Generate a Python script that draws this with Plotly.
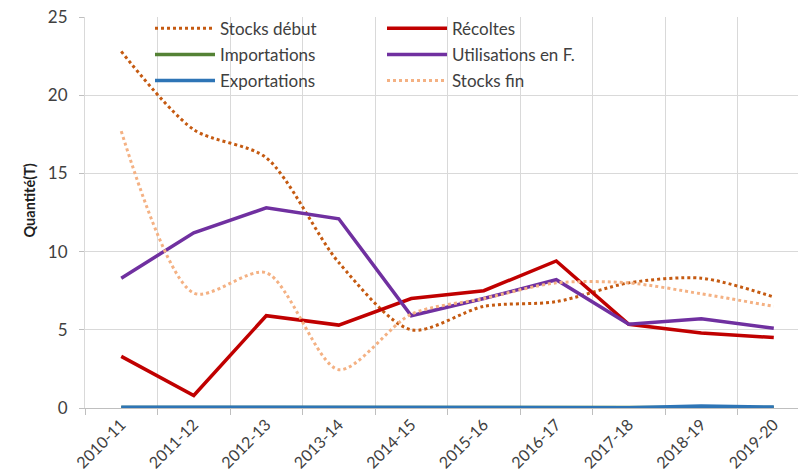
import plotly.graph_objects as go

categories = ["2010-11", "2011-12", "2012-13", "2013-14", "2014-15",
              "2015-16", "2016-17", "2017-18", "2018-19", "2019-20"]
stocks_debut = [22.8, 17.8, 16.0, 9.3, 5.0, 6.5, 6.8, 8.0, 8.3, 7.1]
recoltes = [3.3, 0.8, 5.9, 5.3, 7.0, 7.5, 9.4, 5.35, 4.8, 4.5]
importations = [0.03, 0.03, 0.04, 0.02, 0.02, 0.04, 0.04, 0.02, 0.05, 0.03]
utilisations = [8.3, 11.2, 12.8, 12.1, 5.9, 7.0, 8.2, 5.35, 5.7, 5.1]
exportations = [0.05, 0.05, 0.05, 0.02, 0.02, 0.04, 0.05, 0.02, 0.12, 0.06]
stocks_fin = [17.7, 7.35, 8.65, 2.45, 6.0, 7.0, 8.0, 8.0, 7.3, 6.5]
y_ticks = [0, 5, 10, 15, 20, 25]

FONT = "Lato"
TXT = "#404040"

fig = go.Figure()
fig.add_trace(go.Scatter(x=categories, y=stocks_debut, name="Stocks début", mode="lines",
                         line=dict(color="#C55A11", width=3, dash="3px,3px", shape="spline", smoothing=0.8),
                         legend="legend", legendgroup="a"))
fig.add_trace(go.Scatter(x=categories, y=recoltes, name="Récoltes", mode="lines",
                         line=dict(color="#C00000", width=3.5), legend="legend2", legendgroup="b"))
fig.add_trace(go.Scatter(x=categories, y=importations, name="Importations", mode="lines",
                         line=dict(color="#548235", width=3.5), legend="legend", legendgroup="c"))
fig.add_trace(go.Scatter(x=categories, y=utilisations, name="Utilisations en F.", mode="lines",
                         line=dict(color="#7030A0", width=3.5), legend="legend2", legendgroup="d"))
fig.add_trace(go.Scatter(x=categories, y=exportations, name="Exportations", mode="lines",
                         line=dict(color="#2E75B6", width=3.5), legend="legend", legendgroup="e"))
fig.add_trace(go.Scatter(x=categories, y=stocks_fin, name="Stocks fin", mode="lines",
                         line=dict(color="#F4B183", width=3, dash="3px,3px", shape="spline", smoothing=0.8),
                         legend="legend2", legendgroup="f"))

legend_common = dict(bgcolor="rgba(0,0,0,0)", font=dict(family=FONT, size=17, color=TXT),
                     itemwidth=60, tracegroupgap=1, xanchor="left", yanchor="top",
                     xref="paper", yref="paper")

fig.update_layout(
    width=798, height=476,
    margin=dict(l=85, r=0, t=17, b=68, autoexpand=False),
    paper_bgcolor="white", plot_bgcolor="white",
    font=dict(family=FONT, size=16, color=TXT),
    legend=dict(**legend_common, x=(150 - 85) / 713, y=1.016),
    legend2=dict(**legend_common, x=(382 - 85) / 713, y=1.016),
    xaxis=dict(type="category", tickson="boundaries", range=[-0.5, 9.334],
               automargin=False,
               showgrid=True, gridcolor="#D9D9D9", gridwidth=1,
               ticks="outside", ticklen=6, tickcolor="#BFBFBF",
               showline=True, linecolor="#BFBFBF", linewidth=1,
               tickangle=-45, tickfont=dict(family=FONT, size=16, color=TXT)),
    yaxis=dict(range=[0, 25], tickvals=y_ticks, showgrid=True, gridcolor="#D9D9D9",
               automargin=False,
               gridwidth=1, ticks="outside", ticklen=5, tickcolor="#BFBFBF",
               showline=True, linecolor="#D9D9D9", zeroline=False,
               ticklabelstandoff=8,
               tickfont=dict(family=FONT, size=17, color=TXT)),
    annotations=[dict(text="<b>Quantité(T)</b>", textangle=-90, xref="paper", yref="paper",
                      x=(18 - 85) / 713, y=(408 - 201) / 391, showarrow=False,
                      font=dict(family=FONT, size=14.5, color="#202020"))],
)

fig.write_html("out.html", config={"displayModeBar": False},
               post_script="document.body.style.margin='0';")
